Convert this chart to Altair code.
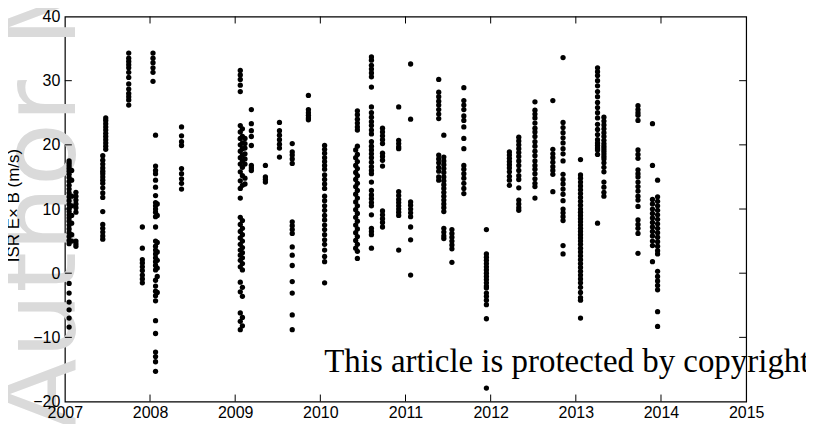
import altair as alt
import pandas as pd

# ---- data: each vertical group of measurements (decimal year, values in m/s) ----
c2007a_x = 2007.05
c2007a = [17.5, 17.1, 16.7, 16.3, 15.9, 15.4, 14.9, 14.3, 13.7, 13.1, 12.5, 11.9, 11.3, 10.7, 10.1, 9.6,
          9.1, 8.6, 8.1, 7.5, 6.9, 6.3, 5.7, 5.1, 4.6, -1.6, -3.1, -4.5, -5.7, -7.0, -8.4]
c2007b_x = 2007.08
c2007b = [16.0, 14.5, 12.0, 10.5, 9.0, 7.8, 6.0, 5.0]
c2007c_x = 2007.13
c2007c = [12.6, 12.0, 11.4, 10.8, 10.2, 9.5, 5.0, 4.6, 4.2]
c2007d_x = 2007.48
c2007d = [24.2, 23.8, 23.3, 22.8, 22.3, 21.8, 21.3, 20.8, 20.3, 19.8, 19.3]
c2007e_x = 2007.445
c2007e = [18.3, 17.6, 17.0, 16.4, 15.9, 15.5, 15.0, 14.5, 14.0, 13.3, 12.5, 11.8, 9.6, 7.6, 7.0, 6.4, 5.8, 5.3]
c2007f_x = 2007.75
c2007f = [34.3, 33.5, 33.0, 32.5, 32.0, 31.3, 30.5, 29.5, 28.7, 28.0, 27.5, 27.0, 26.2]
c2007g_x = 2007.91
c2007g = [7.2, 3.9, 2.1, 1.6, 1.0, 0.4, -0.3, -0.9, -1.5]
c2008a_x = 2008.035
c2008a = [34.3, 33.5, 32.8, 32.0, 31.3, 29.9]
c2008b_x = 2008.065
c2008b = [21.5, 16.7, 16.0, 15.5, 14.5, 13.4, 12.1, 11.0, 10.5, 10.0, 9.5, 8.8, 7.2, 5.0, 4.2, 3.6, 3.0,
          2.4, 1.8, 1.2, 0.5, -1.1, -2.0, -2.8, -3.5, -4.3, -7.4, -9.4, -12.3, -13.0, -13.8, -15.3]
c2008c_x = 2008.085
c2008c = [10.8, 9.0, 4.8, 3.3, 2.0, 0.8, -0.5, -3.0]
c2008d_x = 2008.37
c2008d = [22.8, 21.4, 20.5, 19.9, 16.3, 15.5, 14.7, 14.0, 13.1]
c2009a_x = 2009.06
c2009a = [31.6, 30.9, 30.2, 29.3, 28.3, 23.0, 22.0, 21.0, 20.0, 19.0, 18.0, 17.0, 15.8, 14.4, 13.2, 11.7,
          8.7, 7.6, 6.5, 5.5, 4.5, 3.6, 2.8, 2.0, 1.0, -1.4, -2.9, -6.2, -7.5, -8.8]
c2009b_x = 2009.085
c2009b = [22.5, 21.3, 20.3, 19.4, 18.4, 17.5, 16.5, 15.2, 13.7, 8.2, 7.0, 6.0, 5.0, 4.0, 3.2, 2.4, 1.5,
          0.5, -2.2, -3.6, -6.9, -8.2]
c2009c_x = 2009.115
c2009c = [21.0, 20.2, 19.5, 18.6, 17.8, 17.0, 14.8, 13.9]
c2009d_x = 2009.19
c2009d = [25.5, 23.3, 22.2, 21.3, 19.9, 16.8, 16.4, 16.0]
c2009e_x = 2009.355
c2009e = [16.8, 15.0, 14.6, 14.2]
c2009f_x = 2009.52
c2009f = [23.5, 22.2, 21.5, 20.8, 20.1, 19.5, 18.1]
c2009g_x = 2009.67
c2009g = [20.2, 18.9, 18.4, 17.8, 17.1, 8.0, 7.4, 6.8, 6.2, 4.1, 2.8, 1.2, -1.3, -3.1, -6.5, -8.8]
c2009h_x = 2009.86
c2009h = [27.7, 25.5, 25.0, 24.6, 24.2, 23.9]
c2010a_x = 2010.05
c2010a = [19.9, 19.3, 18.7, 18.0, 17.4, 16.8, 16.2, 15.3, 14.6, 13.9, 13.2, 12.0, 11.3, 10.5, 9.8, 9.0,
          8.3, 7.5, 6.8, 6.0, 5.2, 4.5, 3.6, 2.6, 1.8, -1.5]
c2010b_x = 2010.435
c2010b = [25.3, 24.7, 24.0, 23.4, 22.8, 22.3, 19.8, 18.5, 17.4, 16.3, 15.2, 14.0, 12.9, 11.7, 10.5, 9.3,
          8.1, 6.9, 5.7, 4.5, 3.4, 2.3]
c2010c_x = 2010.415
c2010c = [19.2, 18.0, 16.8, 15.7, 14.6, 13.5, 12.3, 11.1, 9.9, 8.7, 7.5, 6.3, 5.1, 3.9]
c2010d_x = 2010.60
c2010d = [33.7, 33.2, 32.4, 31.8, 31.2, 30.6, 29.0, 25.9, 25.0, 24.3, 23.6, 23.0, 22.3, 21.7, 20.5, 19.8,
          19.2, 18.6, 18.0, 17.3, 16.6, 16.0, 15.5, 14.2, 12.9, 12.2, 11.6, 11.0, 10.5, 9.1, 7.0, 6.5, 6.0, 3.9]
c2010e_x = 2010.73
c2010e = [22.6, 22.0, 21.4, 20.8, 20.2, 18.7, 18.2, 17.6, 16.7, 9.7, 9.1, 8.5, 7.9, 7.2]
c2010f_x = 2010.92
c2010f = [25.9, 20.7, 20.2, 19.7, 19.4, 12.7, 12.1, 11.5, 11.0, 10.5, 10.0, 9.5, 9.0, 3.6]
c2011a_x = 2011.06
c2011a = [32.6, 24.0, 11.1, 10.6, 10.0, 9.4, 8.8, 7.2, 5.2, -0.3]
c2011b_x = 2011.39
c2011b = [30.2, 28.2, 27.5, 26.8, 26.2, 25.5, 24.8, 24.1, 18.4, 17.8, 17.2, 16.5, 15.9, 15.0, 14.5]
c2011c_x = 2011.45
c2011c = [21.5, 18.1, 17.5, 16.9, 16.3, 15.7, 15.0, 14.4, 13.8, 13.2, 12.6, 12.0, 11.4, 10.8, 10.2, 9.6,
          7.0, 6.4, 5.8, 5.4]
c2011d_x = 2011.545
c2011d = [6.8, 6.2, 5.6, 5.0, 4.4, 3.8, 1.7]
c2011e_x = 2011.685
c2011e = [28.9, 26.9, 26.2, 25.5, 24.5, 23.8, 22.8, 21.0, 19.4, 16.8, 16.2, 15.5, 14.8, 14.0, 13.2, 12.4]
c2011f_x = 2011.95
c2011f = [6.8, 3.0, 2.5, 2.0, 1.5, 1.0, 0.5, 0.0, -0.5, -1.0, -1.5, -2.0, -2.3, -3.1, -3.6, -4.2, -4.9,
          -7.1, -17.9]
c2012a_x = 2012.22
c2012a = [18.9, 18.4, 17.9, 17.4, 16.9, 16.4, 15.8, 15.1, 14.5, 13.7]
c2012b_x = 2012.33
c2012b = [21.2, 20.6, 20.0, 19.4, 18.8, 18.2, 17.5, 16.8, 16.0, 15.2, 14.6, 13.3, 11.4, 10.8, 10.2, 9.8]
c2012c_x = 2012.52
c2012c = [26.7, 25.4, 24.8, 24.2, 23.4, 22.6, 22.0, 21.3, 20.5, 19.8, 19.0, 18.3, 17.5, 16.8, 16.2, 15.5,
          14.7, 14.0, 13.5, 11.7]
c2012d_x = 2012.73
c2012d = [26.9, 19.3, 18.6, 18.0, 17.3, 16.6, 16.0, 15.4, 12.7]
c2012e_x = 2012.85
c2012e = [33.6, 23.5, 22.7, 21.9, 21.1, 20.3, 19.4, 18.6, 17.5, 15.4, 14.6, 13.9, 13.1, 12.3, 11.3, 10.0,
          9.4, 8.8, 8.2, 4.3, 3.0]
c2013a_x = 2013.055
c2013a = [17.7, 15.3, 14.8, 14.2, 13.6, 13.0, 12.4, 11.8, 11.2, 10.6, 10.0, 9.5, 9.0, 8.5, 8.0, 7.5, 7.0,
          6.5, 6.0, 5.5, 5.0, 4.5, 3.9, 3.3, 2.7, 2.1, 1.5, 0.9, 0.3, -0.3, -0.9, -1.5, -2.2, -3.0, -3.8,
          -4.2, -7.0]
c2013b_x = 2013.255
c2013b = [32.0, 31.4, 30.8, 30.0, 29.2, 28.3, 27.5, 26.6, 25.8, 25.0, 24.2, 23.2, 22.4, 21.6, 20.8, 20.3,
          19.9, 19.5, 19.2, 18.5, 7.8]
c2013c_x = 2013.33
c2013c = [24.3, 23.7, 23.1, 22.5, 21.9, 21.3, 20.7, 20.2, 19.8, 19.4, 19.0, 18.6, 18.2, 17.8, 17.2, 16.5,
          15.8, 14.2, 13.4, 12.6, 12.0]
c2013d_x = 2013.73
c2013d = [26.1, 25.5, 25.0, 24.6, 23.8, 19.2, 18.5, 17.9, 16.1, 15.5, 15.0, 14.2, 13.5, 12.8, 12.0, 11.4,
          10.4, 8.3, 7.6, 7.0, 6.2, 3.1]
c2013e_x = 2013.90
c2013e = [23.3, 16.8, 11.5, 10.8, 10.0, 9.3, 8.6, 7.9, 7.2, 6.5, 5.8, 5.0, 4.3, 1.8]
c2013f_x = 2013.96
c2013f = [14.5, 11.9, 11.2, 10.5, 9.8, 9.1, 8.4, 7.7, 7.0, 6.3, 5.6, 4.9, 4.2, 3.5, 3.0, 0.3, -0.5, -1.2,
          -1.9, -2.6, -6.0, -8.3]

x_ticks = [2007, 2008, 2009, 2010, 2011, 2012, 2013, 2014, 2015]
y_ticks = [-20, -10, 0, 10, 20, 30, 40]
inner_x_ticks = [2008, 2009, 2010, 2011, 2012, 2013, 2014]
inner_y_ticks = [-10, 0, 10, 20, 30]
y_title = "ISR E\u00d7 B (m/s)"
watermark = "Author Manuscript"
notice = "This article is protected by copyright"

groups = [
    (c2007a_x, c2007a), (c2007b_x, c2007b), (c2007c_x, c2007c), (c2007d_x, c2007d), (c2007e_x, c2007e),
    (c2007f_x, c2007f), (c2007g_x, c2007g), (c2008a_x, c2008a), (c2008b_x, c2008b), (c2008c_x, c2008c),
    (c2008d_x, c2008d), (c2009a_x, c2009a), (c2009b_x, c2009b), (c2009c_x, c2009c), (c2009d_x, c2009d),
    (c2009e_x, c2009e), (c2009f_x, c2009f), (c2009g_x, c2009g), (c2009h_x, c2009h), (c2010a_x, c2010a),
    (c2010b_x, c2010b), (c2010c_x, c2010c), (c2010d_x, c2010d), (c2010e_x, c2010e), (c2010f_x, c2010f),
    (c2011a_x, c2011a), (c2011b_x, c2011b), (c2011c_x, c2011c), (c2011d_x, c2011d), (c2011e_x, c2011e),
    (c2011f_x, c2011f), (c2012a_x, c2012a), (c2012b_x, c2012b), (c2012c_x, c2012c), (c2012d_x, c2012d),
    (c2012e_x, c2012e), (c2013a_x, c2013a), (c2013b_x, c2013b), (c2013c_x, c2013c), (c2013d_x, c2013d),
    (c2013e_x, c2013e), (c2013f_x, c2013f),
]
rows = [{"year": gx, "v": v} for gx, vals in groups for v in vals]
df = pd.DataFrame(rows)

W, H = 683, 386
xscale = alt.Scale(domain=[2007, 2015], nice=False, zero=False)
yscale = alt.Scale(domain=[-20, 40], nice=False, zero=False)

wm = alt.Chart(pd.DataFrame({"t": [watermark]})).mark_text(
    align="left", baseline="alphabetic", angle=270, font="DejaVu Sans",
    fontSize=104, color="#dadada"
).encode(text="t:N", x=alt.value(10), y=alt.value(414))

pts = alt.Chart(df).mark_circle(size=28, color="black", opacity=1).encode(
    x=alt.X("year:Q", scale=xscale,
            axis=alt.Axis(values=x_ticks, format="d", title=None, grid=False, domain=False,
                          ticks=False, labelPadding=3, labelFontSize=16, labelColor="black",
                          labelFont="Liberation Sans", labelFlush=False, zindex=1)),
    y=alt.Y("v:Q", scale=yscale,
            axis=alt.Axis(values=y_ticks, title=y_title, grid=False, domain=False, ticks=False,
                          labelPadding=5, labelFontSize=16, labelColor="black",
                          labelFont="Liberation Sans", labelFlush=False, zindex=1,
                          titleFont="Liberation Sans", titleFontSize=17, titleFontWeight="normal",
                          titleColor="black", titleAngle=270, titleX=-51, titleY=189,
                          titleBaseline="middle", titleAlign="center")),
)

xt = pd.DataFrame({"year": inner_x_ticks})
yt = pd.DataFrame({"v": inner_y_ticks})
tick_style = dict(color="black", strokeWidth=1)
xt_bottom = alt.Chart(xt).mark_rule(**tick_style).encode(
    x=alt.X("year:Q", scale=xscale), y=alt.value(H), y2=alt.value(H - 7))
xt_top = alt.Chart(xt).mark_rule(**tick_style).encode(
    x=alt.X("year:Q", scale=xscale), y=alt.value(0), y2=alt.value(7))
yt_left = alt.Chart(yt).mark_rule(**tick_style).encode(
    y=alt.Y("v:Q", scale=yscale), x=alt.value(0), x2=alt.value(7))
yt_right = alt.Chart(yt).mark_rule(**tick_style).encode(
    y=alt.Y("v:Q", scale=yscale), x=alt.value(W), x2=alt.value(W - 7))

note = alt.Chart(pd.DataFrame({"t": [notice]})).mark_text(
    align="left", baseline="alphabetic", font="Liberation Serif", fontSize=33, color="black"
).encode(text="t:N", x=alt.value(260), y=alt.value(356))

chart = alt.layer(wm, pts, xt_bottom, xt_top, yt_left, yt_right, note).properties(
    width=W, height=H,
    autosize=alt.AutoSizeParams(type="none"),
    padding={"left": 57, "top": 8, "right": 60, "bottom": 22},
).configure(
    background="white",
    view=alt.ViewConfig(stroke="black", strokeWidth=1.2),
)

chart.save("out.html", embed_options={"renderer": "svg", "actions": False})
